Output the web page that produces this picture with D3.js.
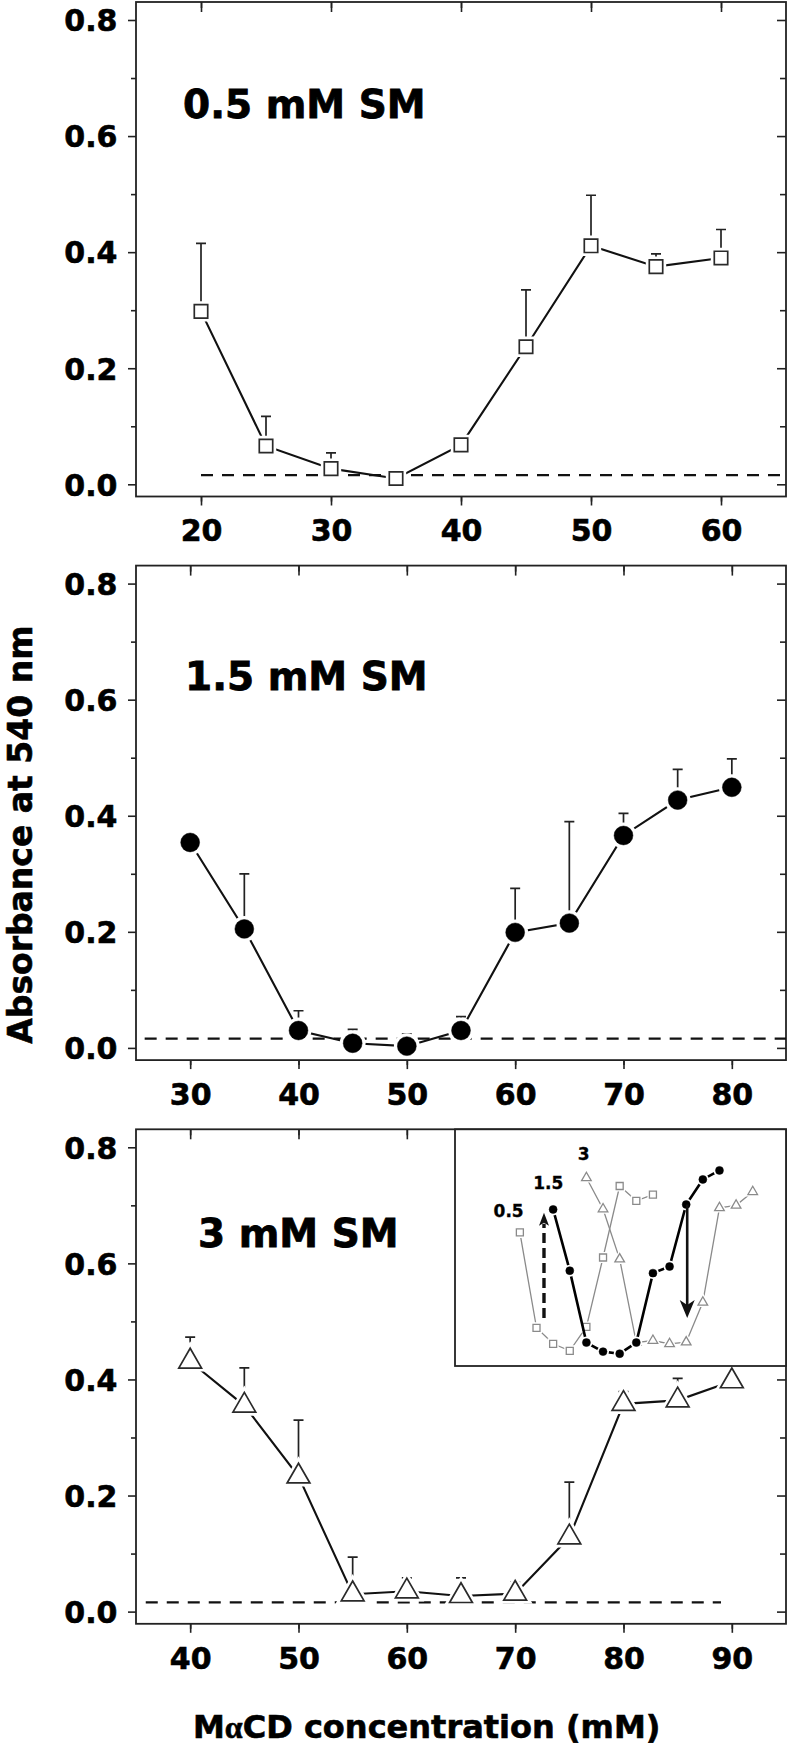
<!DOCTYPE html>
<html><head><meta charset="utf-8">
<script src="https://cdn.jsdelivr.net/npm/d3@7"></script>
<style>body{margin:0;background:#fff}svg{display:block}</style>
</head><body>
<svg id="chart" width="789" height="1747"></svg>
<script>
// ---------------- data ----------------
const xs05  = [20,25,30,35,40,45,50,55,60];
const abs05 = [0.298,0.066,0.027,0.010,0.068,0.237,0.411,0.375,0.390];
const err05 = [0.117,0.051,0.027,0.012,0.013,0.098,0.087,0.022,0.049];

const xs15  = [30,35,40,45,50,55,60,65,70,75,80];
const abs15 = [0.354,0.205,0.030,0.008,0.003,0.030,0.199,0.215,0.366,0.427,0.449];
const err15 = [0,0.095,0.034,0.024,0.021,0.024,0.076,0.175,0.038,0.053,0.049];

const xs3   = [40,45,50,55,60,65,70,75,80,85,90];
const abs3  = [0.431,0.355,0.233,0.030,0.035,0.027,0.031,0.128,0.358,0.364,0.397];
const err3  = [0.042,0.065,0.097,0.064,0.023,0.031,0.020,0.095,0.021,0.038,0.014];

const xDomain05 = [15,65], xDomain15 = [25,85], xDomain3 = [35,95];
const xMajor05 = [20,30,40,50,60], xMajor15 = [30,40,50,60,70,80], xMajor3 = [40,50,60,70,80,90];
const yTicks = [0,0.2,0.4,0.6,0.8];
const yMinor = [0.1,0.3,0.5,0.7];
const yDomain = [-0.021,0.831];
const baselineValue = 0.016;
const dash05 = [20,64.6], dash15 = [25.8,85], dash3 = [35.9,89];
const panelLabels = ["0.5 mM SM","1.5 mM SM","3 mM SM"];
const insetLabels = ["0.5","1.5","3"];
const insetLabelPos = [[12.1,0.336],[24.0,0.404],[37.4,0.474]];
const insetXDomain = [0.5,100], insetYDomain = [-0.027,0.549];
const arrowUp = [27.25, 0.090, 0.346];   // x, from, to (dashed)
const arrowDown = [70.3, 0.366, 0.090];  // x, from, to (solid)
const yTitle = "Absorbance at 540 nm";

// ---------------- layout ----------------
const svg = d3.select("#chart");
const FONT = "'DejaVu Sans', sans-serif";
const AX = "#222";
const L = 136, R = 786, H = 494.5;
const panelTops = [2, 565.6, 1129.3];

const panels = [
  {xs: xs05, ys: abs05, es: err05, xDomain: xDomain05, xMajor: xMajor05, dash: dash05, symbol: "square", labelX: 183, labelDy: 116},
  {xs: xs15, ys: abs15, es: err15, xDomain: xDomain15, xMajor: xMajor15, dash: dash15, symbol: "circle", labelX: 185, labelDy: 124},
  {xs: xs3,  ys: abs3,  es: err3,  xDomain: xDomain3,  xMajor: xMajor3,  dash: dash3,  symbol: "triangle", labelX: 198, labelDy: 117.5}
];

function symbolFor(kind, small) {
  if (kind === "square") return d3.symbol().type(d3.symbolSquare).size(small ? 49 : 180);
  if (kind === "circle") return d3.symbol().type(d3.symbolCircle).size(small ? 50 : 280);
  return d3.symbol().type(d3.symbolTriangle).size(small ? 40 : 225);
}

function boldText(sel) {
  sel.attr("fill", "#000").attr("stroke", "#000").attr("stroke-width", 0.6)
    .attr("font-family", FONT).attr("font-weight", "bold");
}

function styleAxis(g) {
  g.select(".domain").remove();
  g.selectAll(".tick line").attr("stroke", AX).attr("stroke-width", 1.6);
  g.selectAll(".tick text").call(boldText).attr("font-size", 30);
}

panels.forEach((p, i) => {
  const top = panelTops[i];
  const g = svg.append("g");
  const x = d3.scaleLinear().domain(p.xDomain).range([L, R]);
  const y = d3.scaleLinear().domain(yDomain).range([top + H, top]);
  const xMinor = d3.range(p.xDomain[0] + 5, p.xDomain[1], 10);

  // bottom axis (outward)
  g.append("g").attr("transform", `translate(0,${top + H})`)
    .call(d3.axisBottom(x).tickValues(p.xMajor).tickSize(9).tickSizeOuter(0).tickPadding(14.5).tickFormat(d3.format("d")))
    .call(styleAxis);
  g.append("g").attr("transform", `translate(0,${top + H})`)
    .call(d3.axisBottom(x).tickValues(xMinor).tickSize(5).tickSizeOuter(0).tickFormat(""))
    .call(styleAxis);
  // top axis (inward)
  g.append("g").attr("transform", `translate(0,${top})`)
    .call(d3.axisBottom(x).tickValues(p.xMajor).tickSize(10).tickSizeOuter(0).tickFormat(""))
    .call(styleAxis);
  g.append("g").attr("transform", `translate(0,${top})`)
    .call(d3.axisBottom(x).tickValues(xMinor).tickSize(6).tickSizeOuter(0).tickFormat(""))
    .call(styleAxis);
  // left axis (outward)
  g.append("g").attr("transform", `translate(${L},0)`)
    .call(d3.axisLeft(y).tickValues(yTicks).tickSize(8).tickSizeOuter(0).tickPadding(10.5).tickFormat(d3.format(".1f")))
    .call(styleAxis)
    .call(a => a.selectAll(".tick text").attr("dy", "0.36em"));
  g.append("g").attr("transform", `translate(${L},0)`)
    .call(d3.axisLeft(y).tickValues(yMinor).tickSize(5).tickSizeOuter(0).tickFormat(""))
    .call(styleAxis);
  // right axis (inward)
  g.append("g").attr("transform", `translate(${R},0)`)
    .call(d3.axisLeft(y).tickValues(yTicks).tickSize(9).tickSizeOuter(0).tickFormat(""))
    .call(styleAxis);
  g.append("g").attr("transform", `translate(${R},0)`)
    .call(d3.axisLeft(y).tickValues(yMinor).tickSize(6).tickSizeOuter(0).tickFormat(""))
    .call(styleAxis);
  // frame
  g.append("rect").attr("x", L).attr("y", top).attr("width", R - L).attr("height", H)
    .attr("fill", "none").attr("stroke", AX).attr("stroke-width", 1.8);

  // dashed baseline
  g.append("line")
    .attr("x1", x(p.dash[0])).attr("x2", x(p.dash[1]))
    .attr("y1", y(baselineValue)).attr("y2", y(baselineValue))
    .attr("stroke", "#111").attr("stroke-width", 2.2).attr("stroke-dasharray", "12,9");

  const pts = p.xs.map((v, k) => ({x: v, y: p.ys[k], e: p.es[k]}));

  // connecting line
  g.append("path").datum(pts)
    .attr("d", d3.line().x(d => x(d.x)).y(d => y(d.y)))
    .attr("fill", "none").attr("stroke", "#111").attr("stroke-width", 2.1);

  // error bars (upper only)
  g.selectAll(".eb").data(pts.filter(d => d.e > 0)).join("path")
    .attr("d", d => `M${x(d.x)},${y(d.y)}V${y(d.y + d.e)}M${x(d.x) - 5},${y(d.y + d.e)}h10`)
    .attr("fill", "none").attr("stroke", "#222").attr("stroke-width", 1.7);

  // markers with white halo
  const sym = symbolFor(p.symbol, false);
  g.selectAll(".halo").data(pts).join("path")
    .attr("transform", d => `translate(${x(d.x)},${y(d.y)})`)
    .attr("d", sym).attr("fill", "#fff").attr("stroke", "#fff").attr("stroke-width", 7);
  g.selectAll(".mk").data(pts).join("path")
    .attr("transform", d => `translate(${x(d.x)},${y(d.y)})`)
    .attr("d", sym)
    .attr("fill", p.symbol === "circle" ? "#000" : "#fff")
    .attr("stroke", p.symbol === "circle" ? "#000" : "#2a2a2a")
    .attr("stroke-width", p.symbol === "circle" ? 0.5 : 1.7);

  // panel label
  g.append("text").attr("x", p.labelX).attr("y", top + p.labelDy)
    .call(boldText).attr("stroke-width", 0.8).attr("font-size", 39)
    .text(panelLabels[i]);
});

// ---------------- inset ----------------
const ix = d3.scaleLinear().domain(insetXDomain).range([455, R]);
const iy = d3.scaleLinear().domain(insetYDomain).range([1366, panelTops[2]]);
const ig = svg.append("g");
ig.append("rect").attr("x", ix.range()[0]).attr("y", iy.range()[1])
  .attr("width", ix.range()[1] - ix.range()[0]).attr("height", iy.range()[0] - iy.range()[1])
  .attr("fill", "#fff").attr("stroke", AX).attr("stroke-width", 1.8);

const insetSeries = [
  {xs: xs05, ys: abs05, symbol: "square", color: "#8a8a8a", width: 1.3},
  {xs: xs3,  ys: abs3,  symbol: "triangle", color: "#8a8a8a", width: 1.3},
  {xs: xs15, ys: abs15, symbol: "circle", color: "#000", width: 2.6}
];
insetSeries.forEach(s => {
  const pts = s.xs.map((v, k) => ({x: v, y: s.ys[k]}));
  const sg = ig.append("g");
  sg.append("path").datum(pts)
    .attr("d", d3.line().x(d => ix(d.x)).y(d => iy(d.y)))
    .attr("fill", "none").attr("stroke", s.color).attr("stroke-width", s.width);
  const sym = symbolFor(s.symbol, true);
  sg.selectAll(".halo").data(pts).join("path")
    .attr("transform", d => `translate(${ix(d.x)},${iy(d.y)})`)
    .attr("d", sym).attr("fill", "#fff").attr("stroke", "#fff").attr("stroke-width", 4);
  sg.selectAll(".mk").data(pts).join("path")
    .attr("transform", d => `translate(${ix(d.x)},${iy(d.y)})`)
    .attr("d", sym)
    .attr("fill", s.symbol === "circle" ? "#000" : "#fff")
    .attr("stroke", s.color).attr("stroke-width", s.symbol === "circle" ? 0.5 : 1.3);
});

// arrows
(function () {
  const ax = ix(arrowUp[0]), y0 = iy(arrowUp[1]), tip = iy(arrowUp[2]);
  ig.append("line").attr("x1", ax).attr("x2", ax).attr("y1", y0).attr("y2", tip + 11)
    .attr("stroke", "#111").attr("stroke-width", 3.4).attr("stroke-dasharray", "10,5");
  ig.append("path").attr("d", `M${ax},${tip}L${ax - 5},${tip + 13}L${ax},${tip + 10}L${ax + 5},${tip + 13}Z`)
    .attr("fill", "#111");
})();
(function () {
  const ax = ix(arrowDown[0]), y0 = iy(arrowDown[1]), tip = iy(arrowDown[2]);
  ig.append("line").attr("x1", ax).attr("x2", ax).attr("y1", y0).attr("y2", tip - 10)
    .attr("stroke", "#111").attr("stroke-width", 2.6);
  ig.append("path").attr("d", `M${ax},${tip}L${ax - 7.5},${tip - 18}L${ax},${tip - 13}L${ax + 7.5},${tip - 18}Z`)
    .attr("fill", "#111");
})();

ig.selectAll(".ilab").data(insetLabels).join("text")
  .attr("x", (d, k) => ix(insetLabelPos[k][0]))
  .attr("y", (d, k) => iy(insetLabelPos[k][1]))
  .call(boldText).attr("stroke-width", 0.3).attr("font-size", 17)
  .text(d => d);

// ---------------- axis titles ----------------
svg.append("text")
  .attr("transform", "translate(31.5,834.6) rotate(-90)")
  .attr("text-anchor", "middle")
  .call(boldText).attr("font-size", 33)
  .text(yTitle);

const xt = svg.append("text").attr("x", 193).attr("y", 1738)
  .call(boldText).attr("font-size", 32);
xt.append("tspan").text("M");
xt.append("tspan").attr("font-family", "'Liberation Serif', serif").attr("font-weight", "bold").text("α");
xt.append("tspan").text("CD concentration (mM)");
</script>
</body></html>
